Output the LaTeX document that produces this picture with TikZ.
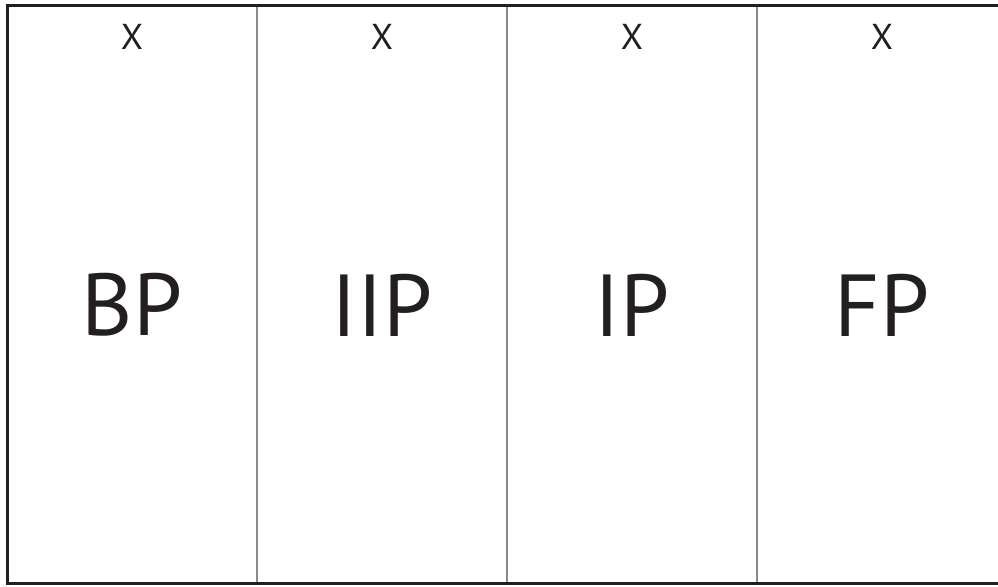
\documentclass[tikz,border=0pt]{standalone}
\usepackage{fontspec}
\setmainfont{PT Sans}
\usepackage{tikz}
\usetikzlibrary{positioning,calc}
\definecolor{framedark}{RGB}{35, 31, 32}
\definecolor{dividergrey}{RGB}{138, 138, 140}
\definecolor{inkblack}{RGB}{35, 31, 32}

\begin{document}
\begin{tikzpicture}[x=1pt, y=-1pt,
    headlabel/.style={inner sep=0pt, font=\fontsize{36}{36}\selectfont, text=inkblack},
    phaselabel/.style={inner sep=0pt, font=\fontsize{88}{88}\selectfont, text=inkblack}]
    \useasboundingbox (0,0) rectangle (998,586);
    \fill[white] (0,0) rectangle (998,586);

    % Column dividers
    \foreach \xd in {257, 507, 757}
        \draw[line width=2pt, color=dividergrey] (\xd,5.5) -- (\xd,583);

    % Outer frame (open on the right)
    \draw[line width=3pt, color=framedark] (1010,5.5) -- (7,5.5) -- (7,583) -- (1010,583);

    % Column labels
    \foreach \cx/\name/\txt in {132/bp/BP, 382/iip/IIP, 632/ip/IP, 882/fp/FP} {
        \node[headlabel] (\name-x) at (\cx,37) {X};
        \node[phaselabel] (\name) at (\cx,305) {\txt};
    }
\end{tikzpicture}
\end{document}
